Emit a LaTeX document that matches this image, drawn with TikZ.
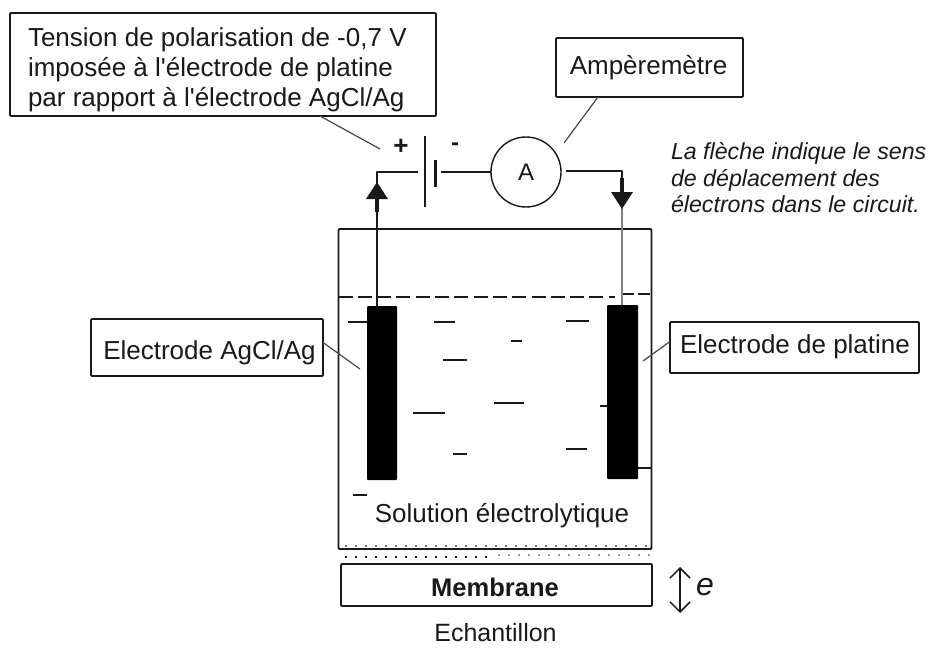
\documentclass[tikz,border=0pt]{standalone}
\usepackage{fontspec}
\setmainfont{Liberation Sans}
\newfontfamily\plainfont{Liberation Sans}
\usetikzlibrary{arrows.meta}
\definecolor{ink}{gray}{0.1}
\tikzset{
  x=1pt,y=-1pt,
  every path/.style={color=ink,line join=round},
  every node/.style={text=ink,inner sep=0pt,outer sep=0pt},
  lbl/.style={font=\fontsize{26}{30}\selectfont},
  boxed/.style={draw,line width=1.8pt,rounded corners=1pt,fill=white},
  wire/.style={line width=1.9pt},
  lead/.style={line width=1.2pt,color=ink!80},
  charge/.style={line width=2pt},
  elec/.style={fill=black,draw=none,rounded corners=1pt},
  bigtip/.style={-{Triangle[length=17pt,width=21pt]}},
  dotrow/.style={line width=2pt,dash pattern=on 2pt off 8pt}
}
\begin{document}
\begin{tikzpicture}
\useasboundingbox (0,0) rectangle (928,648);
% cell
\node[draw,line width=1.9pt,rounded corners=1pt,minimum width=313pt,minimum height=320pt] (cell) at (495,389) {};
% liquid level
\coordinate (lvlL) at (cell.west |- 0,297);
\coordinate (lvlM) at (615,297);
\coordinate (lvlN) at (622,294);
\coordinate (lvlR) at (cell.east |- 0,294);
\draw[line width=2.2pt,dash pattern=on 14pt off 5.3pt] (lvlL) -- (lvlM);
\draw[line width=2.2pt,dash pattern=on 12pt off 4pt] (lvlN) -- (lvlR);
% electrodes
\node[elec,minimum width=30pt,minimum height=174pt] (ag) at (382,393) {};
\node[elec,minimum width=31pt,minimum height=174pt] (pt) at (622.5,392) {};
\draw[line width=1.9pt] (pt.east |- 0,468) -- (cell.east |- 0,468);
% circuit
\node[draw,circle,line width=1.4pt,minimum size=70pt,font=\fontsize{24}{24}\selectfont] (amp) at (526,172) {A};
\coordinate (batP) at (425,172);
\coordinate (batN) at (435,172);
\draw[line width=1.9pt] (425,136) -- (batP) -- (425,207);
\draw[line width=3pt] (435,160) -- (batN) -- (435,187);
\coordinate (cornerL) at (377,172);
\coordinate (cornerR) at (622,171);
\draw[wire] (418,172) -- (cornerL) -- (cornerL |- ag.north);
\draw[wire] (441,172) -- (amp.west);
\draw[wire] (566,171) -- (cornerR) -- (622,190);
\draw[line width=1.6pt,color=ink!55] (622,205) -- (cornerR |- pt.north);
\draw[line width=3.5pt,bigtip] (377,212) -- (377,182);
\draw[line width=3.5pt,bigtip] (622,178) -- (622,209);
\node[font=\fontsize{26}{26}\bfseries\selectfont] (plus) at (401,147) {+};
\node[font=\fontsize{24}{24}\bfseries\selectfont] (minus) at (455,147) {-};
% labels
\node[boxed,minimum width=426pt,minimum height=103pt] (pol) at (223,64.5) {};
\node[font=\fontsize{26}{30}\selectfont\plainfont,align=left,anchor=west] (poltxt) at (28,70) {Tension de polarisation de -0,7 V\\imposée à l'électrode de platine\\par rapport à l'électrode AgCl/Ag};
\node[boxed,minimum width=187pt,minimum height=59pt] (ampbox) at (649.5,67.5) {};
\node[lbl] (amptxt) at (648.5,68) {Ampèremètre};
\node[boxed,minimum width=232pt,minimum height=57pt] (agbox) at (207,347.5) {};
\node[lbl] (agtxt) at (209.5,353) {Electrode AgCl/Ag};
\node[boxed,minimum width=249pt,minimum height=51pt] (ptbox) at (794.5,347.5) {};
\node[lbl] (pttxt) at (795,347) {Electrode de platine};
\coordinate (polEnd) at (380,149);
\coordinate (ampEnd) at (564,143);
\coordinate (agEnd) at (360,369);
\coordinate (ptEnd) at (643,361);
\draw[lead] (320,116) -- (polEnd);
\draw[lead] (598,97) -- (ampEnd);
\draw[lead] (agbox.east) ++(0,-5) -- (agEnd);
\draw[lead] (ptbox.west) ++(0,-6) -- (ptEnd);
\node[font=\fontsize{23.2}{26.5}\selectfont\itshape,align=left,anchor=west] (note) at (671,178) {La flèche indique le sens\\de déplacement des\\électrons dans le circuit.};
% charges
\draw[charge] (348,322) -- (ag.west |- 0,322);
\draw[charge] (434,322) -- (455,322);
\draw[charge] (443,360) -- (467,360);
\draw[charge] (413,413) -- (445,413);
\draw[charge] (453,454) -- (467,454);
\draw[charge] (353,495) -- (367,495);
\draw[charge] (566,321) -- (589,321);
\draw[charge] (511,341) -- (522,341);
\draw[charge] (494,403) -- (524,403);
\draw[charge] (600,406) -- (pt.west |- 0,406);
\draw[charge] (566,449) -- (587,449);
\node[lbl] (sol) at (502,516) {Solution électrolytique};
% dots
\draw[dotrow,color=ink!60] (345,546) -- (650,546);
\draw[dotrow] (345,557) -- (492,557);
\draw[dotrow,color=ink!45] (498,555) -- (650,555);
% membrane
\node[boxed,minimum width=311pt,minimum height=42pt] (mem) at (496.5,585) {};
\node[font=\fontsize{25.5}{26}\bfseries\selectfont] (memtxt) at (495,587) {Membrane};
\coordinate (eT) at (680,567);
\coordinate (eB) at (680,613);
\draw[line width=1.5pt,{Straight Barb[length=10pt,width=20pt]}-{Straight Barb[length=10pt,width=20pt]}] (eT) -- (eB);
\node[font=\fontsize{32}{32}\itshape\selectfont] (e) at (705,587) {e};
\node[font=\fontsize{25}{30}\selectfont] (ech) at (495.5,633) {Echantillon};
\end{tikzpicture}
\end{document}
